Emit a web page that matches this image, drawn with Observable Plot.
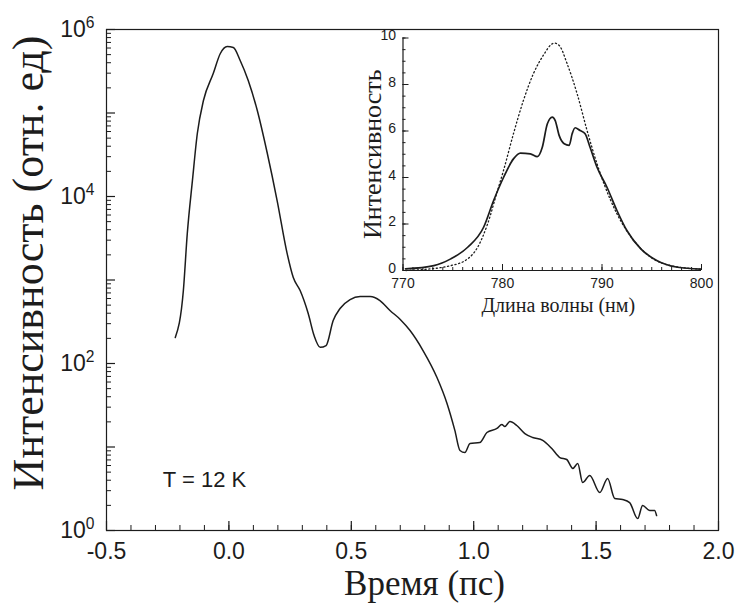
<!DOCTYPE html>
<html><head><meta charset="utf-8">
<script src="https://cdn.jsdelivr.net/npm/d3@7"></script>
<script src="https://cdn.jsdelivr.net/npm/@observablehq/plot@0.6"></script>
<style>
body{margin:0;background:#fff;}
#wrap{position:relative;width:738px;height:603px;overflow:hidden;}
#inset{position:absolute;left:350px;top:20px;}
</style></head><body><div id="wrap"><div id="main"></div><div id="inset"></div></div>
<script>
// Main chart: time-resolved intensity (log scale)
const time = [-0.219,-0.186,-0.170,-0.149,-0.129,-0.104,-0.064,-0.035,-0.007,0.018,0.046,0.079,0.116,0.157,0.197,0.238,0.263,0.291,0.324,0.348,0.373,0.397,0.426,0.454,0.495,0.536,0.577,0.617,0.658,0.700,0.740,0.793,0.850,0.891,0.923,0.944,0.964,0.985,1.025,1.054,1.095,1.115,1.127,1.148,1.176,1.209,1.241,1.282,1.319,1.352,1.380,1.405,1.425,1.445,1.474,1.515,1.547,1.576,1.608,1.637,1.670,1.690,1.719,1.739,1.747];
const intensity = [205,748,3600,15500,56800,141000,297000,516000,625000,608000,426000,245000,107000,32700,8950,2070,1070,748,397,216,156,164,327,456,583,634,634,568,432,337,248,143,67.9,33.2,15.8,9.08,8.59,11.0,11.3,14.9,16.7,18.6,17.6,20.2,18.1,14.5,13.0,12.0,9.59,7.48,7.08,5.53,6.34,3.76,4.56,2.85,4.20,2.42,2.35,2.16,1.39,1.99,1.74,1.74,1.51];
const xTicks = [-0.5,0,0.5,1,1.5,2];
const yLabelTicks = [1,1e2,1e4,1e6];
const yMajorTicks = [1,1e1,1e2,1e3,1e4,1e5,1e6];

// Inset: spectra
const wavelength = [770.25,773.1,774.8,776.5,778.1,779.1,780.1,781.1,781.8,782.8,783.5,784.0,784.5,785.0,785.3,785.7,786.2,786.7,787.0,787.3,787.8,788.3,788.8,789.5,790.5,791.5,792.5,793.9,795.5,797.6,799.9];
const spectrum = [0.07,0.21,0.5,1.0,1.86,3.0,4.0,4.8,5.05,5.02,4.9,5.3,6.3,6.6,6.45,5.8,5.45,5.38,5.88,6.14,6.02,5.88,5.3,4.44,3.58,2.58,1.72,0.93,0.43,0.14,0.06];
const wavelengthDotted = [770.3,771.2,774.8,776.5,777.5,778.5,779.5,780.1,781.1,782.1,783.1,784.2,784.8,785.2,785.7,786.5,787.5,788.5,789.5,790.2,791.5,793.2,794.9,796.9,799.9];
const spectrumDotted = [0.0,0.02,0.21,0.5,1.0,2.0,3.44,4.3,5.88,7.31,8.46,9.32,9.68,9.78,9.68,8.89,7.6,6.02,4.59,3.73,2.44,1.29,0.57,0.21,0.06];
const insetXTicks = [770,780,790,800];
const insetYTicks = [0,2,4,6,8,10];

const ink = "#1c1c1c";
const sans = "'Liberation Sans', Arial, Helvetica, sans-serif";
const serif = "'Liberation Serif', 'Times New Roman', serif";

// ---------- main ----------
const W = 738, H = 603, mL = 106, mR = 20, mT = 29, mB = 73;
const pw = W - mL - mR, ph = H - mT - mB;
const mainData = time.map((t, i) => ({t, v: intensity[i]}));
const xMinor = d3.range(-0.5, 2.0001, 0.1).map(d => +d.toFixed(2));
const yMinor = [];
for (let e = 0; e < 6; e++) for (let k = 2; k <= 9; k++) yMinor.push(k * Math.pow(10, e));

const main = Plot.plot({
  width: W, height: H,
  marginLeft: mL, marginRight: mR, marginTop: mT, marginBottom: mB,
  style: {fontFamily: sans, fontSize: "22px", background: "white", color: ink},
  x: {domain: [-0.5, 2.0]},
  y: {type: "log", domain: [1, 1e6]},
  marks: [
    Plot.frame({stroke: ink, strokeWidth: 1.2}),
    Plot.ruleX(xMinor, {x: d => d, insetTop: ph - 5, stroke: ink}),
    Plot.ruleX(xTicks, {x: d => d, insetTop: ph - 9, stroke: ink, strokeWidth: 1.2}),
    Plot.ruleY(yMinor, {y: d => d, insetRight: pw - 5, stroke: ink}),
    Plot.ruleY(yMajorTicks, {y: d => d, insetRight: pw - 9, stroke: ink, strokeWidth: 1.2}),
    Plot.axisX({ticks: xTicks, tickSize: 0, tickPadding: 12, tickFormat: d => d.toFixed(1), label: null, fontSize: 23}),
    Plot.axisY({ticks: yLabelTicks, tickSize: 0, tickPadding: 12, tickFormat: d => "10^" + Math.round(Math.log10(d)), label: null, fontSize: 23}),
    Plot.line(mainData, {x: "t", y: "v", stroke: ink, strokeWidth: 1.5, curve: "monotone-x"}),
    Plot.text(["T = 12 K"], {x: -0.27, y: 4, textAnchor: "start", lineAnchor: "middle", fontSize: 22, fill: ink}),
    Plot.text(["Интенсивность (отн. ед)"], {frameAnchor: "left", textAnchor: "middle", lineAnchor: "middle", rotate: -90, dx: -78, dy: -17, fontFamily: serif, fontSize: 44, fill: ink}),
    Plot.text(["Время (пс)"], {frameAnchor: "bottom", textAnchor: "middle", lineAnchor: "middle", dx: 12, dy: 53, fontFamily: serif, fontSize: 35, fill: ink})
  ]
});
d3.select(main).selectAll('g[aria-label="y-axis tick label"] text').each(function() {
  const parts = this.textContent.split("^");
  this.textContent = parts[0];
  d3.select(this).append("tspan").attr("dy", "-0.55em").attr("font-size", "0.68em").text(parts[1]);
});
document.getElementById("main").appendChild(main);

// ---------- inset ----------
const iW = 370, iH = 300, iL = 52.5, iR = 19, iT = 17.5, iB = 50;
const ipw = iW - iL - iR, iph = iH - iT - iB;
const solidData = wavelength.map((w, i) => ({w, v: spectrum[i]}));
const dottedData = wavelengthDotted.map((w, i) => ({w, v: spectrumDotted[i]}));
const ixMinor = d3.range(770, 800.001, 1);
const iyMinor = d3.range(0, 10.001, 0.5);

const inset = Plot.plot({
  width: iW, height: iH,
  marginLeft: iL, marginRight: iR, marginTop: iT, marginBottom: iB,
  style: {fontFamily: sans, fontSize: "14px", background: "transparent", color: ink, overflow: "visible"},
  x: {domain: [770, 800]},
  y: {domain: [0, 10]},
  marks: [
    Plot.ruleX([770], {stroke: ink, strokeWidth: 1.2}),
    Plot.ruleY([0], {stroke: ink, strokeWidth: 1.2}),
    Plot.ruleX(ixMinor, {x: d => d, insetTop: iph - 3, stroke: ink}),
    Plot.ruleX(insetXTicks, {x: d => d, insetTop: iph - 6, stroke: ink}),
    Plot.ruleY(iyMinor, {y: d => d, insetRight: ipw - 3, stroke: ink}),
    Plot.ruleY(insetYTicks, {y: d => d, insetRight: ipw - 6, stroke: ink}),
    Plot.axisX({ticks: insetXTicks, tickSize: 0, tickPadding: 8, label: null, fontSize: 14, tickFormat: d => String(d)}),
    Plot.axisY({ticks: insetYTicks, tickSize: 0, tickPadding: 7, dy: -2, label: null, fontSize: 14, tickFormat: d => String(d)}),
    Plot.line(dottedData, {x: "w", y: "v", stroke: ink, strokeWidth: 1.3, strokeDasharray: "1.2,2.6", curve: "monotone-x"}),
    Plot.line(solidData, {x: "w", y: "v", stroke: ink, strokeWidth: 1.7, curve: "monotone-x"}),
    Plot.text(["Интенсивность"], {frameAnchor: "left", textAnchor: "middle", lineAnchor: "middle", rotate: -90, dx: -30, fontFamily: serif, fontSize: 26, fill: ink}),
    Plot.text(["Длина волны (нм)"], {frameAnchor: "bottom", textAnchor: "middle", lineAnchor: "middle", dx: 6, dy: 35, fontFamily: serif, fontSize: 20, fill: ink})
  ]
});
document.getElementById("inset").appendChild(inset);
</script>
</body></html>
